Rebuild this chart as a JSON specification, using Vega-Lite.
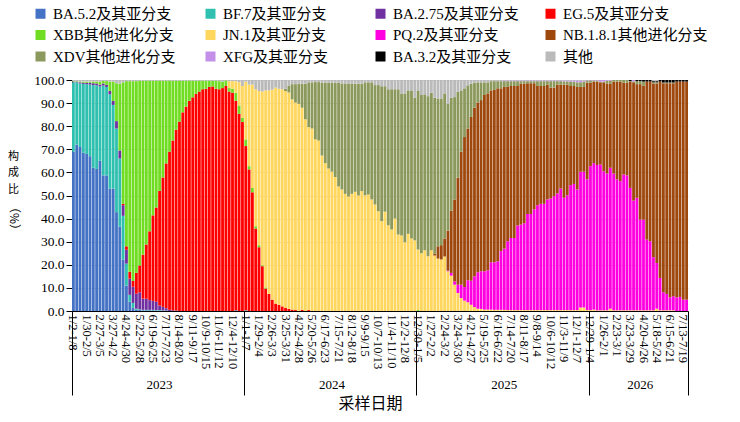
{
  "$schema": "https://vega.github.io/schema/vega-lite/v6.json",
  "width": 616,
  "height": 231,
  "autosize": {"type": "none"},
  "padding": {"left": 72, "top": 80, "right": 52, "bottom": 111},
  "background": "white",
  "config": {
    "view": {"stroke": null},
    "axis": {
      "labelColor": "#000", "titleColor": "#000", "domainColor": "#000", "tickColor": "#000",
      "labelFont": "Liberation Serif", "titleFont": "Noto Sans CJK SC", "titleFontWeight": "normal",
      "gridColor": "#d9d9d9", "labelOverlap": false
    }
  },
  "datasets": {
    "names": [
      {"k": "A", "o": 1, "n": "BA.5.2及其亚分支"},
      {"k": "B", "o": 2, "n": "BF.7及其亚分支"},
      {"k": "C", "o": 3, "n": "BA.2.75及其亚分支"},
      {"k": "D", "o": 4, "n": "EG.5及其亚分支"},
      {"k": "E", "o": 5, "n": "XBB其他进化分支"},
      {"k": "F", "o": 6, "n": "JN.1及其亚分支"},
      {"k": "G", "o": 7, "n": "PQ.2及其亚分支"},
      {"k": "H", "o": 8, "n": "NB.1.8.1其他进化分支"},
      {"k": "I", "o": 9, "n": "XDV其他进化分支"},
      {"k": "J", "o": 10, "n": "XFG及其亚分支"},
      {"k": "K", "o": 11, "n": "BA.3.2及其亚分支"},
      {"k": "L", "o": 12, "n": "其他"}
    ],
    "weeks": [
      {"w": "1/2-1/8", "A": 69, "B": 30, "C": 0.3, "E": 0.2, "L": 0.5},
      {"w": "1/9-1/15", "A": 72, "B": 27, "C": 0.3, "E": 0.2, "L": 0.5},
      {"w": "1/16-1/22", "A": 71, "B": 27.5, "C": 0.5, "E": 0.3, "L": 0.7},
      {"w": "1/23-1/29", "A": 68.5, "B": 29.8, "C": 0.5, "E": 0.5, "L": 0.7},
      {"w": "1/30-2/5", "A": 68, "B": 30.2, "C": 0.6, "E": 0.5, "L": 0.7},
      {"w": "2/6-2/12", "A": 67, "B": 31, "C": 0.8, "E": 0.5, "L": 0.7},
      {"w": "2/13-2/19", "A": 62, "B": 35.8, "C": 0.8, "E": 0.7, "L": 0.7},
      {"w": "2/20-2/26", "A": 61.5, "B": 36.2, "C": 0.8, "E": 0.8, "L": 0.7},
      {"w": "2/27-3/5", "A": 65, "B": 32.2, "C": 0.8, "E": 1.3, "L": 0.7},
      {"w": "3/6-3/12", "A": 58.7, "B": 38.9, "C": 0.9, "E": 1.2, "L": 0.3},
      {"w": "3/13-3/19", "A": 58.7, "B": 38.3, "C": 0.9, "E": 1.6, "L": 0.5},
      {"w": "3/20-3/26", "A": 53, "B": 40.8, "C": 1.5, "E": 4, "L": 0.7},
      {"w": "3/27-4/2", "A": 53, "B": 36.2, "C": 1.7, "E": 8.4, "L": 0.7},
      {"w": "4/3-4/9", "A": 42.8, "B": 36.2, "C": 3.2, "E": 16.4, "L": 1.4},
      {"w": "4/10-4/16", "A": 36.6, "B": 29.4, "C": 3.5, "E": 28.9, "L": 1.6},
      {"w": "4/17-4/23", "A": 22.3, "B": 18.9, "C": 4.6, "D": 0.6, "E": 52.6, "L": 1},
      {"w": "4/24-4/30", "A": 11, "B": 9.5, "C": 6, "D": 1.5, "E": 71.5, "L": 0.5},
      {"w": "5/1-5/7", "A": 4, "B": 3, "C": 7, "D": 3, "E": 82.5, "L": 0.5},
      {"w": "5/8-5/14", "A": 1.5, "B": 2, "C": 7, "D": 2.5, "E": 86.5, "L": 0.5},
      {"w": "5/15-5/21", "A": 0.5, "B": 0.5, "C": 6.5, "D": 9, "E": 83, "L": 0.5},
      {"w": "5/22-5/28", "A": 0.4, "B": 0.3, "C": 7.4, "D": 11.6, "E": 80, "L": 0.3},
      {"w": "5/29-6/4", "A": 0.3, "B": 0.2, "C": 4.9, "D": 19, "E": 75.3, "L": 0.3},
      {"w": "6/5-6/11", "A": 0.3, "B": 0.2, "C": 4.8, "D": 23.5, "E": 70.9, "L": 0.3},
      {"w": "6/12-6/18", "A": 0.3, "B": 0.2, "C": 4.2, "D": 29.8, "E": 65.2, "L": 0.3},
      {"w": "6/19-6/25", "A": 0.3, "B": 0.2, "C": 3.9, "D": 37, "E": 58.3, "L": 0.3},
      {"w": "6/26-7/2", "A": 0.2, "B": 0.2, "C": 3.6, "D": 40.8, "E": 54.9, "L": 0.3},
      {"w": "7/3-7/9", "A": 0.2, "B": 0.2, "C": 2, "D": 49.6, "E": 47.7, "L": 0.3},
      {"w": "7/10-7/16", "A": 0.2, "B": 0.1, "C": 1.5, "D": 56, "E": 41.9, "L": 0.3},
      {"w": "7/17-7/23", "A": 0.1, "B": 0.1, "C": 1, "D": 62.7, "E": 35.8, "L": 0.3},
      {"w": "7/24-7/30", "C": 0.5, "D": 68.5, "E": 30.7, "L": 0.3},
      {"w": "7/31-8/6", "C": 0.3, "D": 73.5, "E": 25.9, "L": 0.3},
      {"w": "8/7-8/13", "C": 0.2, "D": 78.3, "E": 21.2, "L": 0.3},
      {"w": "8/14-8/20", "D": 82, "E": 17.7, "L": 0.3},
      {"w": "8/21-8/27", "D": 86, "E": 13.7, "L": 0.3},
      {"w": "8/28-9/3", "D": 88.5, "E": 11.2, "L": 0.3},
      {"w": "9/4-9/10", "D": 91, "E": 8.7, "L": 0.3},
      {"w": "9/11-9/17", "D": 92.5, "E": 7.2, "L": 0.3},
      {"w": "9/18-9/24", "D": 94, "E": 5.7, "L": 0.3},
      {"w": "9/25-10/1", "D": 95, "E": 4.7, "L": 0.3},
      {"w": "10/2-10/8", "D": 96, "E": 3.7, "L": 0.3},
      {"w": "10/9-10/15", "D": 96.2, "E": 3.5, "L": 0.3},
      {"w": "10/16-10/22", "D": 97, "E": 2.7, "L": 0.3},
      {"w": "10/23-10/29", "D": 97.2, "E": 2.5, "L": 0.3},
      {"w": "10/30-11/5", "D": 96.2, "E": 3.5, "L": 0.3},
      {"w": "11/6-11/12", "D": 96, "E": 3.5, "L": 0.5},
      {"w": "11/13-11/19", "D": 96.5, "E": 2.8, "L": 0.7},
      {"w": "11/20-11/26", "D": 97.4, "E": 2.4, "L": 0.2},
      {"w": "11/27-12/3", "D": 95, "E": 1.5, "F": 3, "L": 0.5},
      {"w": "12/4-12/10", "D": 94.5, "E": 1.7, "F": 3.3, "L": 0.5},
      {"w": "12/11-12/17", "A": 0.3, "D": 90.7, "E": 3.5, "F": 5, "L": 0.5},
      {"w": "12/18-12/24", "D": 85.4, "E": 3.6, "F": 10, "L": 1},
      {"w": "12/25-12/31", "D": 81.8, "E": 1.9, "F": 13.7, "L": 2.6},
      {"w": "1/1-1/7", "B": 0.3, "D": 71.1, "E": 2.9, "F": 25, "L": 0.7},
      {"w": "1/8-1/14", "D": 61.3, "E": 1.4, "F": 35.3, "L": 2},
      {"w": "1/15-1/21", "D": 51.4, "E": 1.9, "F": 44.7, "L": 2},
      {"w": "1/22-1/28", "D": 35.7, "E": 1, "F": 59.3, "L": 4},
      {"w": "1/29-2/4", "D": 27.6, "E": 0.9, "F": 66.7, "L": 4.8},
      {"w": "2/5-2/11", "D": 19.4, "E": 0.4, "F": 75.2, "L": 5},
      {"w": "2/12-2/18", "D": 9.7, "E": 0.5, "F": 85.3, "L": 4.5},
      {"w": "2/19-2/25", "D": 7.4, "F": 88.1, "L": 4.5},
      {"w": "2/26-3/3", "D": 4.9, "F": 90.9, "L": 4.2},
      {"w": "3/4-3/10", "D": 3.2, "F": 93.5, "L": 3.3},
      {"w": "3/11-3/17", "D": 2.7, "F": 93.5, "L": 3.8},
      {"w": "3/18-3/24", "D": 2, "F": 94, "L": 4},
      {"w": "3/25-3/31", "D": 1.3, "F": 93.9, "I": 1, "L": 3.8},
      {"w": "4/1-4/7", "D": 0.9, "F": 93.7, "I": 3, "L": 2.4},
      {"w": "4/8-4/14", "D": 0.6, "F": 91, "I": 6.6, "L": 1.8},
      {"w": "4/15-4/21", "D": 0.4, "F": 89.8, "I": 8, "L": 1.8},
      {"w": "4/22-4/28", "F": 89.7, "I": 8.7, "L": 1.6},
      {"w": "4/29-5/5", "D": 0.5, "F": 87.5, "I": 10.4, "L": 1.6},
      {"w": "5/6-5/12", "F": 83, "I": 15.4, "L": 1.6},
      {"w": "5/13-5/19", "D": 0.4, "F": 79.2, "I": 19.4, "L": 1},
      {"w": "5/20-5/26", "F": 79, "I": 20, "L": 1},
      {"w": "5/27-6/2", "F": 74.3, "I": 24.8, "L": 0.9},
      {"w": "6/3-6/9", "F": 73.8, "I": 25.3, "L": 0.9},
      {"w": "6/10-6/16", "F": 67.3, "I": 31.6, "L": 1.1},
      {"w": "6/17-6/23", "F": 64, "I": 34.9, "L": 1.1},
      {"w": "6/24-6/30", "F": 61.7, "I": 37.2, "L": 1.1},
      {"w": "7/1-7/7", "F": 60.3, "I": 38.6, "L": 1.1},
      {"w": "7/8-7/14", "F": 58, "I": 40.9, "L": 1.1},
      {"w": "7/15-7/21", "F": 53.9, "I": 45, "L": 1.1},
      {"w": "7/22-7/28", "F": 52.6, "I": 45.9, "L": 1.5},
      {"w": "7/29-8/4", "F": 50.7, "I": 47.8, "L": 1.5},
      {"w": "8/5-8/11", "F": 49.6, "I": 48.9, "L": 1.5},
      {"w": "8/12-8/18", "F": 50.7, "I": 47.8, "L": 1.5},
      {"w": "8/19-8/25", "F": 51.6, "I": 46.8, "L": 1.6},
      {"w": "8/26-9/1", "F": 50, "I": 48.4, "L": 1.6},
      {"w": "9/2-9/8", "F": 51.9, "I": 46.5, "L": 1.6},
      {"w": "9/9-9/15", "F": 50.1, "I": 48.9, "L": 1},
      {"w": "9/16-9/22", "F": 50.4, "I": 48.6, "L": 1},
      {"w": "9/23-9/29", "F": 48.3, "I": 50.7, "L": 1},
      {"w": "9/30-10/6", "F": 46.1, "I": 51.7, "L": 2.2},
      {"w": "10/7-10/13", "F": 43.2, "I": 54.6, "L": 2.2},
      {"w": "10/14-10/20", "F": 38.9, "I": 58.4, "L": 2.7},
      {"w": "10/21-10/27", "F": 43, "I": 54.3, "L": 2.7},
      {"w": "10/28-11/3", "F": 37.1, "I": 58.9, "L": 4},
      {"w": "11/4-11/10", "F": 35.3, "I": 60.7, "L": 4},
      {"w": "11/11-11/17", "F": 40, "I": 56, "L": 4},
      {"w": "11/18-11/24", "F": 33.1, "I": 62.9, "L": 4},
      {"w": "11/25-12/1", "F": 32.7, "I": 61.5, "L": 5.8},
      {"w": "12/2-12/8", "F": 29.8, "I": 64.4, "L": 5.8},
      {"w": "12/9-12/15", "F": 33.4, "I": 62.1, "L": 4.5},
      {"w": "12/16-12/22", "F": 31.4, "I": 64.1, "L": 4.5},
      {"w": "12/23-12/29", "F": 30.6, "I": 61.7, "L": 7.7},
      {"w": "12/30-1/5", "E": 0.4, "F": 26.2, "I": 68.9, "L": 4.5},
      {"w": "1/6-1/12", "F": 25, "I": 68.5, "L": 6.5},
      {"w": "1/13-1/19", "F": 26.3, "I": 67.5, "L": 6.2},
      {"w": "1/20-1/26", "F": 23.7, "I": 69.3, "L": 7},
      {"w": "1/27-2/2", "F": 26.3, "I": 68.2, "L": 5.5},
      {"w": "2/3-2/9", "F": 24, "H": 0.8, "I": 67.5, "L": 7.7},
      {"w": "2/10-2/16", "F": 22.7, "H": 5.3, "I": 64, "L": 8},
      {"w": "2/17-2/23", "F": 22.3, "H": 6.2, "I": 63.5, "L": 8},
      {"w": "2/24-3/2", "F": 23.6, "H": 7.8, "I": 62.8, "L": 5.8},
      {"w": "3/3-3/9", "F": 17.2, "G": 0.3, "H": 17.3, "I": 54.9, "L": 10.3},
      {"w": "3/10-3/16", "F": 15.3, "G": 1.2, "H": 27, "I": 48.8, "L": 7.7},
      {"w": "3/17-3/23", "F": 11.4, "G": 1.4, "H": 35.5, "I": 44.3, "L": 7.4},
      {"w": "3/24-3/30", "F": 7.8, "G": 3.6, "H": 46.3, "I": 37.3, "L": 5},
      {"w": "3/31-4/6", "F": 5.6, "G": 5.8, "H": 57.6, "I": 26.5, "L": 4.5},
      {"w": "4/7-4/13", "F": 4.5, "G": 5.9, "H": 64.9, "I": 21.1, "L": 3.6},
      {"w": "4/14-4/20", "F": 3.8, "G": 9.5, "H": 65.7, "I": 18.7, "L": 2.3},
      {"w": "4/21-4/27", "F": 2.7, "G": 10.4, "H": 70.9, "I": 14.4, "L": 1.6},
      {"w": "4/28-5/4", "F": 1.7, "G": 13.3, "H": 73, "I": 10.8, "L": 1.2},
      {"w": "5/5-5/11", "F": 1, "G": 15.8, "H": 73.4, "I": 8.8, "L": 1},
      {"w": "5/12-5/18", "F": 0.9, "G": 16.3, "H": 74.1, "I": 7.7, "L": 1},
      {"w": "5/19-5/25", "F": 0.6, "G": 16.6, "H": 76.3, "I": 5.5, "L": 1},
      {"w": "5/26-6/1", "F": 0.6, "G": 17, "H": 76.6, "I": 4.8, "L": 1},
      {"w": "6/2-6/8", "F": 0.6, "G": 20.5, "H": 74.4, "I": 4, "L": 0.5},
      {"w": "6/9-6/15", "F": 0.5, "G": 20.6, "H": 74.6, "I": 3.8, "L": 0.5},
      {"w": "6/16-6/22", "F": 0.5, "G": 21, "H": 74.9, "I": 3.1, "L": 0.5},
      {"w": "6/23-6/29", "F": 0.5, "G": 25.4, "H": 70.5, "I": 3.1, "L": 0.5},
      {"w": "6/30-7/6", "F": 0.5, "G": 26.5, "H": 70, "I": 2.5, "J": 0.3, "L": 0.2},
      {"w": "7/7-7/13", "F": 0.4, "G": 29.8, "H": 66.8, "I": 2.5, "J": 0.3, "L": 0.2},
      {"w": "7/14-7/20", "F": 0.4, "G": 31.2, "H": 65.8, "I": 2.1, "J": 0.3, "L": 0.2},
      {"w": "7/21-7/27", "F": 0.4, "G": 31.2, "H": 65.8, "I": 2.1, "J": 0.3, "L": 0.2},
      {"w": "7/28-8/3", "F": 0.4, "G": 36.6, "H": 60.4, "I": 2.1, "J": 0.3, "L": 0.2},
      {"w": "8/4-8/10", "F": 0.4, "G": 37, "H": 61, "I": 1.1, "J": 0.3, "L": 0.2},
      {"w": "8/11-8/17", "F": 0.4, "G": 37.6, "H": 60.4, "I": 1.1, "J": 0.3, "L": 0.2},
      {"w": "8/18-8/24", "F": 0.4, "G": 41.6, "H": 56.6, "I": 0.9, "J": 0.3, "L": 0.2},
      {"w": "8/25-8/31", "F": 0.4, "G": 41.6, "H": 56.6, "I": 0.9, "J": 0.3, "L": 0.2},
      {"w": "9/1-9/7", "F": 0.4, "G": 43.6, "H": 54.6, "I": 0.9, "J": 0.3, "L": 0.2},
      {"w": "9/8-9/14", "F": 0.4, "G": 45.4, "H": 51.6, "I": 2.1, "J": 0.3, "L": 0.2},
      {"w": "9/15-9/21", "F": 0.4, "G": 46, "H": 51, "I": 2.1, "J": 0.3, "L": 0.2},
      {"w": "9/22-9/28", "F": 0.4, "G": 46, "H": 51, "I": 2.1, "J": 0.3, "L": 0.2},
      {"w": "9/29-10/5", "F": 0.4, "G": 47.9, "H": 49.7, "I": 1.5, "J": 0.3, "L": 0.2},
      {"w": "10/6-10/12", "F": 0.4, "G": 48.3, "H": 48, "I": 2.8, "J": 0.3, "L": 0.2},
      {"w": "10/13-10/19", "F": 0.4, "G": 49.3, "H": 47, "I": 2.8, "J": 0.3, "L": 0.2},
      {"w": "10/20-10/26", "F": 0.4, "G": 50.5, "H": 47.1, "I": 1.5, "J": 0.3, "L": 0.2},
      {"w": "10/27-11/2", "F": 0.4, "G": 52.6, "H": 45, "I": 1.5, "J": 0.3, "L": 0.2},
      {"w": "11/3-11/9", "F": 0.4, "G": 48.6, "H": 49, "I": 1.4, "J": 0.4, "L": 0.2},
      {"w": "11/10-11/16", "F": 0.4, "G": 49.7, "H": 47.9, "I": 1.4, "J": 0.4, "L": 0.2},
      {"w": "11/17-11/23", "F": 0.4, "G": 54.1, "H": 42.9, "I": 1.9, "J": 0.5, "L": 0.2},
      {"w": "11/24-11/30", "F": 0.4, "G": 54.6, "H": 42.4, "I": 1.9, "J": 0.5, "L": 0.2},
      {"w": "12/1-12/7", "F": 0.4, "G": 52.2, "H": 44.4, "I": 2, "J": 0.7, "L": 0.3},
      {"w": "12/8-12/14", "F": 1.5, "G": 58.8, "H": 36.7, "I": 2, "J": 0.7, "L": 0.3},
      {"w": "12/15-12/21", "F": 1.5, "G": 58.8, "H": 36.7, "I": 2.3, "J": 0.4, "L": 0.3},
      {"w": "12/22-12/28", "F": 0.4, "G": 56.6, "H": 41.8, "I": 1, "J": 0.2},
      {"w": "12/29-1/4", "F": 0.4, "G": 62.3, "H": 36.1, "I": 1, "J": 0.2},
      {"w": "1/5-1/11", "F": 0.6, "G": 63.4, "H": 35.3, "I": 0.5, "J": 0.2},
      {"w": "1/12-1/18", "F": 0.3, "G": 62.9, "H": 36.1, "I": 0.5, "J": 0.2},
      {"w": "1/19-1/25", "F": 0.3, "G": 63.1, "H": 35.6, "I": 0.3, "J": 0.7},
      {"w": "1/26-2/1", "F": 0.3, "G": 60.2, "H": 38.5, "I": 0.3, "J": 0.7},
      {"w": "2/2-2/8", "F": 0.3, "G": 59.2, "H": 39, "I": 1.2, "J": 0.3},
      {"w": "2/9-2/15", "F": 1, "G": 61, "H": 36.5, "I": 1.2, "J": 0.3},
      {"w": "2/16-2/22", "F": 0.3, "G": 59.2, "H": 39.8, "I": 0.7},
      {"w": "2/23-3/1", "F": 0.3, "G": 56.7, "H": 42.3, "I": 0.7},
      {"w": "3/2-3/8", "F": 0.3, "G": 55.9, "H": 43.1, "I": 0.7},
      {"w": "3/9-3/15", "F": 0.3, "G": 58.8, "H": 39.7, "I": 1.2},
      {"w": "3/16-3/22", "F": 0.3, "G": 58.4, "H": 40.1, "I": 1.2},
      {"w": "3/23-3/29", "F": 0.3, "G": 53, "H": 46, "I": 0.2, "K": 0.5},
      {"w": "3/30-4/5", "F": 0.3, "G": 47.5, "H": 51.2, "I": 0.4, "J": 0.6},
      {"w": "4/6-4/12", "F": 0.3, "G": 48.7, "H": 49.2, "I": 1.3, "K": 0.5},
      {"w": "4/13-4/19", "F": 0.3, "G": 39.3, "H": 58.6, "I": 1.3, "K": 0.5},
      {"w": "4/20-4/26", "F": 0.3, "G": 39.3, "H": 57.9, "I": 1.8, "K": 0.7},
      {"w": "4/27-5/3", "F": 0.3, "G": 30.6, "H": 68.4, "K": 0.7},
      {"w": "5/4-5/10", "F": 0.3, "G": 29.9, "H": 69.1, "K": 0.7},
      {"w": "5/11-5/17", "F": 0.3, "G": 23, "H": 75.2, "I": 0.5, "K": 0.5, "L": 0.5},
      {"w": "5/18-5/24", "F": 1, "G": 19.8, "H": 77.7, "I": 0.5, "K": 0.5, "L": 0.5},
      {"w": "5/25-5/31", "F": 0.3, "G": 14, "H": 85, "K": 0.7},
      {"w": "6/1-6/7", "F": 0.3, "G": 7.8, "H": 90.5, "I": 0.3, "K": 1.1},
      {"w": "6/8-6/14", "F": 0.3, "G": 7.1, "H": 91.2, "I": 0.3, "K": 1.1},
      {"w": "6/15-6/21", "F": 0.3, "G": 5.6, "H": 92.7, "I": 0.3, "K": 1.1},
      {"w": "6/22-6/28", "F": 0.3, "G": 6.1, "H": 92.2, "I": 0.3, "K": 1.1},
      {"w": "6/29-7/5", "G": 5.9, "H": 93.4, "K": 0.7},
      {"w": "7/6-7/12", "G": 6.1, "H": 93.2, "K": 0.7},
      {"w": "7/13-7/19", "G": 4.9, "H": 94.4, "K": 0.7},
      {"w": "7/20-7/26", "G": 4.9, "H": 94.4, "K": 0.7}
    ]
  },
  "layer": [
    {
      "data": {"name": "weeks"},
      "transform": [
        {"fold": ["A", "B", "C", "D", "E", "F", "G", "H", "I", "J", "K", "L"], "as": ["k", "v"]},
        {"filter": "isValid(datum.v) && datum.v > 0"},
        {"lookup": "k", "from": {"data": {"name": "names"}, "key": "k", "fields": ["o", "n"]}}
      ],
      "mark": {"type": "bar", "clip": true},
      "encoding": {
        "x": {
          "field": "w", "type": "ordinal", "sort": null,
          "scale": {"paddingInner": 0.15, "paddingOuter": 0},
          "axis": {
            "orient": "bottom",
            "values": ["1/2-1/8", "1/30-2/5", "2/27-3/5", "3/27-4/2", "4/24-4/30", "5/22-5/28", "6/19-6/25", "7/17-7/23", "8/14-8/20", "9/11-9/17", "10/9-10/15", "11/6-11/12", "12/4-12/10", "1/1-1/7", "1/29-2/4", "2/26-3/3", "3/25-3/31", "4/22-4/28", "5/20-5/26", "6/17-6/23", "7/15-7/21", "8/12-8/18", "9/9-9/15", "10/7-10/13", "11/4-11/10", "12/2-12/8", "12/30-1/5", "1/27-2/2", "2/24-3/2", "3/24-3/30", "4/21-4/27", "5/19-5/25", "6/16-6/22", "7/14-7/20", "8/11-8/17", "9/8-9/14", "10/6-10/12", "11/3-11/9", "12/1-12/7", "12/29-1/4", "1/26-2/1", "2/23-3/1", "3/23-3/29", "4/20-4/26", "5/18-5/24", "6/15-6/21", "7/13-7/19"],
            "labelAngle": 90, "labelFontSize": 12.5, "labelPadding": 3,
            "ticks": false, "grid": false,
            "title": "采样日期", "titleFontSize": 16,
            "titleX": 298, "titleY": 84, "titleBaseline": "top", "titleAlign": "center"
          }
        },
        "y": {
          "field": "v", "type": "quantitative", "stack": "zero",
          "scale": {"domain": [0, 100], "nice": false},
          "axis": {
            "orient": "left",
            "values": [0, 10, 20, 30, 40, 50, 60, 70, 80, 90, 100],
            "format": ".1f", "labelFontSize": 13.5, "labelPadding": 2,
            "tickSize": 6, "grid": true,
            "title": ["构", "成", "比"], "titleAngle": 0, "titleFontSize": 11, "titleLineHeight": 16.5,
            "titleX": -59, "titleY": 70, "titleBaseline": "top", "titleAlign": "center"
          }
        },
        "color": {
          "field": "n", "type": "nominal",
          "scale": {
            "domain": ["BA.5.2及其亚分支", "BF.7及其亚分支", "BA.2.75及其亚分支", "EG.5及其亚分支", "XBB其他进化分支", "JN.1及其亚分支", "PQ.2及其亚分支", "NB.1.8.1其他进化分支", "XDV其他进化分支", "XFG及其亚分支", "BA.3.2及其亚分支", "其他"],
            "range": ["#4472c4", "#30c0b0", "#7030a0", "#ff0000", "#70dd22", "#ffd75e", "#ff00e0", "#9e480e", "#8c995c", "#c38fe8", "#000000", "#bababa"]
          },
          "legend": {
            "orient": "none", "legendX": -39, "legendY": -74,
            "columns": 4, "direction": "horizontal", "gridAlign": "all",
            "title": null, "padding": 0,
            "symbolType": "square", "symbolSize": 100, "symbolStrokeWidth": 0, "symbolOpacity": 1,
            "labelFont": "Liberation Serif, Noto Sans CJK SC", "labelFontSize": 15, "labelColor": "#000",
            "labelLimit": 300, "labelOffset": 5, "columnPadding": 5, "rowPadding": 5.5
          }
        },
        "order": {"field": "o", "type": "quantitative", "sort": "ascending"}
      }
    },
    {
      "data": {"values": []},
      "mark": "rule",
      "encoding": {
        "x": {
          "field": "w", "type": "ordinal", "sort": null,
          "axis": {
            "orient": "bottom", "values": ["1/2-1/8", "1/1-1/7", "12/30-1/5", "12/29-1/4"],
            "bandPosition": 0, "labels": false, "domain": false, "grid": false,
            "ticks": true, "tickSize": 84, "tickWidth": 1, "title": null
          }
        }
      }
    },
    {
      "data": {"values": []},
      "mark": "rule",
      "encoding": {
        "x": {
          "field": "w", "type": "ordinal", "sort": null,
          "axis": {
            "orient": "bottom", "values": ["7/20-7/26"],
            "bandPosition": 1, "labels": false, "domain": false, "grid": false,
            "ticks": true, "tickSize": 84, "tickWidth": 1, "title": null
          }
        }
      }
    },
    {
      "data": {"values": []},
      "mark": "rule",
      "encoding": {
        "x": {
          "field": "w", "type": "ordinal", "sort": null,
          "axis": {
            "orient": "bottom", "values": ["7/3-7/9", "7/1-7/7", "6/30-7/6", "4/13-4/19"],
            "bandPosition": 0, "ticks": false, "domain": false, "grid": false,
            "labelExpr": "datum.value == '7/3-7/9' ? '2023' : datum.value == '7/1-7/7' ? '2024' : datum.value == '6/30-7/6' ? '2025' : '2026'",
            "labelAngle": 0, "labelAlign": "center", "labelBaseline": "top",
            "labelFontSize": 13, "labelPadding": 67, "title": null
          }
        }
      }
    },
    {
      "data": {"values": []},
      "mark": "rule",
      "encoding": {
        "y": {
          "field": "v", "type": "quantitative",
          "axis": {
            "orient": "left", "labels": false, "ticks": false, "domain": false, "grid": false,
            "title": "（%）", "titleAngle": 90, "titleFontSize": 12,
            "titleX": -59, "titleY": 138, "titleAlign": "center", "titleBaseline": "middle"
          }
        }
      }
    }
  ],
  "resolve": {"axis": {"x": "independent", "y": "independent"}}
}
